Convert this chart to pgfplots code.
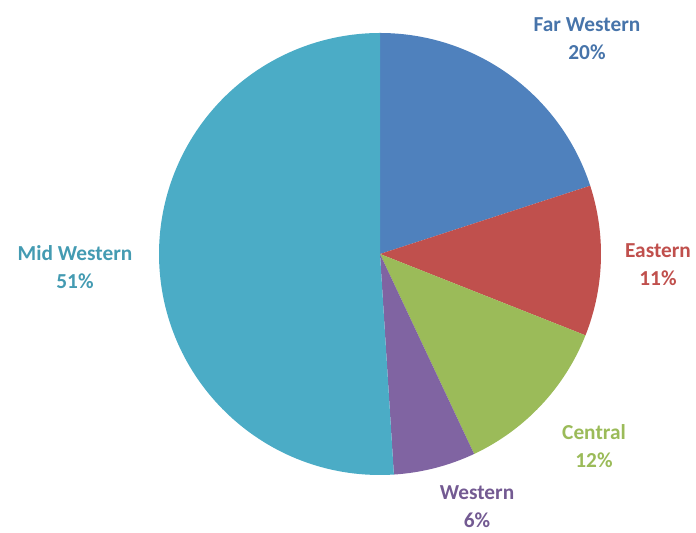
\documentclass[border=0pt]{standalone}
\usepackage{pgfplots}
\pgfplotsset{compat=1.18}
\usepackage{pgfplotstable}
\usepackage{fontspec}
\setmainfont{Carlito}

\definecolor{cFW}{HTML}{4F81BD}
\definecolor{cE}{HTML}{C0504D}
\definecolor{cC}{HTML}{9BBB59}
\definecolor{cW}{HTML}{8064A2}
\definecolor{cMW}{HTML}{4BACC6}

\tikzset{lbl/.style={align=center, font=\bfseries\fontsize{16}{21}\selectfont}}

% share of each region, clockwise from 12 o'clock
\pgfplotstableread{
value color
20 cFW
11 cE
12 cC
6 cW
51 cMW
}\piedata

\begin{document}
\begin{tikzpicture}
\begin{axis}[
    x=0.75pt, y=0.75pt,
    xmin=0, xmax=696, ymin=0, ymax=528,
    hide axis,
    clip=false,
]
\path (axis cs:0,0) rectangle (axis cs:696,528);
\def\cum{0}
\pgfplotsforeachungrouped \i in {0,...,4}{%
    \pgfplotstablegetelem{\i}{value}\of\piedata \let\v\pgfplotsretval
    \pgfplotstablegetelem{\i}{color}\of\piedata \let\c\pgfplotsretval
    \pgfmathsetmacro\a{90-3.6*\cum}
    \pgfmathsetmacro\b{90-3.6*(\cum+\v)}
    \edef\temp{\noexpand\fill[\c] (axis cs:380,274) -- ++(\a:165.75pt)
        arc[start angle=\a, end angle=\b, radius=165.75pt] -- cycle;}
    \temp
    \pgfmathsetmacro\cum{\cum+\v}
}
\node[lbl, text=cFW!90!black] at (axis cs:587,489) {Far Western\\20\%};
\node[lbl, text=cE] at (axis cs:658,263) {Eastern\\11\%};
\node[lbl, text=cC] at (axis cs:594,82) {Central\\12\%};
\node[lbl, text=cW!90!black] at (axis cs:477,21) {Western\\6\%};
\node[lbl, text=cMW!90!black] at (axis cs:75,261) {Mid Western\\51\%};
\end{axis}
\end{tikzpicture}
\end{document}
